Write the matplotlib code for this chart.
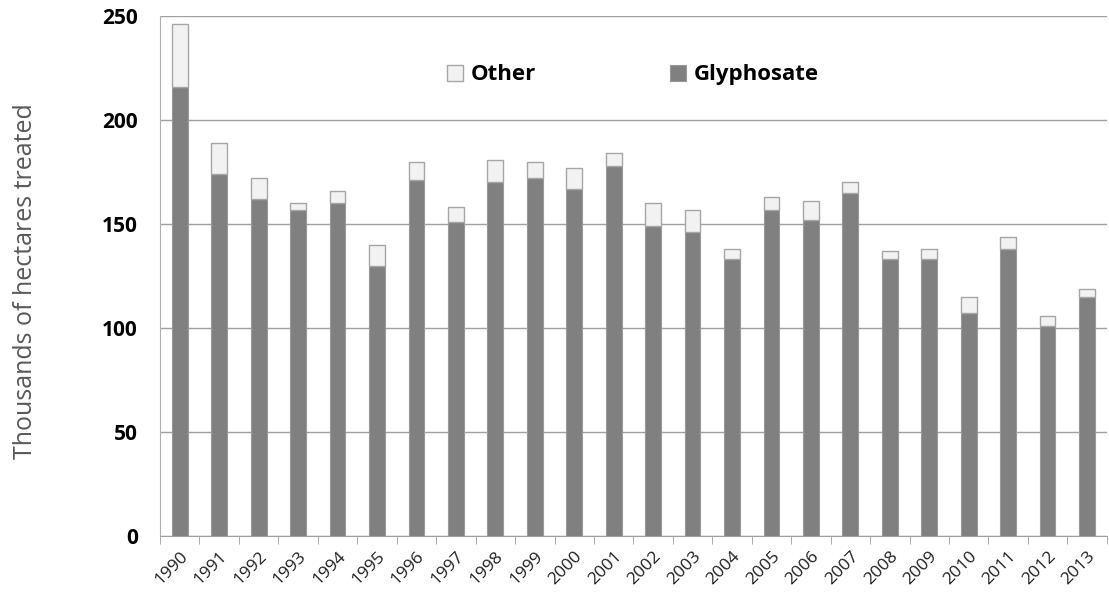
import numpy as np
import matplotlib.pyplot as plt

years = [str(y) for y in range(1990, 2014)]
glyphosate = [216, 174, 162, 157, 160, 130, 171, 151, 170, 172, 167, 178,
              149, 146, 133, 157, 152, 165, 133, 133, 107, 138, 101, 115]
total = [246, 189, 172, 160, 166, 140, 180, 158, 181, 180, 177, 184,
         160, 157, 138, 163, 161, 170, 137, 138, 115, 144, 106, 119]
other = [t - g for t, g in zip(total, glyphosate)]

plt.rcParams['font.family'] = ['Open Sans', 'DejaVu Sans']

fig = plt.figure(figsize=(11.09, 5.97), dpi=100)
ax = fig.add_axes([0.1443, 0.1022, 0.8537, 0.8708])

x = np.arange(len(years))
ax.bar(x, glyphosate, width=0.4, color='#808080', edgecolor='#999999',
       linewidth=0.8, label='Glyphosate', zorder=3)
ax.bar(x, other, bottom=glyphosate, width=0.4, color='#f2f2f2',
       edgecolor='#a6a6a6', linewidth=1.0, label='Other', zorder=3)

ax.set_xlim(-0.5, len(years) - 0.5)
ax.set_ylim(0, 250)
ax.set_yticks([0, 50, 100, 150, 200, 250])
ax.yaxis.grid(True, color='#a0a0a0', linewidth=1.0, zorder=0)
ax.tick_params(axis='y', length=0, labelsize=15, pad=16)
for lbl in ax.get_yticklabels():
    lbl.set_fontweight('bold')

ax.set_xticks(x)
ax.set_xticklabels(years, rotation=45, ha='right', rotation_mode='anchor',
                   fontsize=12.5, color='#202020')
ax.tick_params(axis='x', length=0, pad=9)
ax.set_xticks(np.arange(-0.5, len(years)), minor=True)
ax.tick_params(axis='x', which='minor', length=6, color='#a0a0a0')

for side in ['top', 'right']:
    ax.spines[side].set_visible(False)
ax.spines['left'].set_color('#b0b0b0')
ax.spines['bottom'].set_color('#a0a0a0')

ax.set_ylabel('Thousands of hectares treated', fontsize=18, color='#595959')
ax.yaxis.set_label_coords(-0.129, 0.49)

h, l = ax.get_legend_handles_labels()
leg = ax.legend(h[::-1], l[::-1], loc='center', bbox_to_anchor=(0.4995, 0.887),
                ncol=2, frameon=False, columnspacing=6.0, handlelength=0.72,
                handleheight=0.72, handletextpad=0.36,
                prop={'size': 16, 'weight': 'bold'})

fig.savefig('out.png', dpi=100)
